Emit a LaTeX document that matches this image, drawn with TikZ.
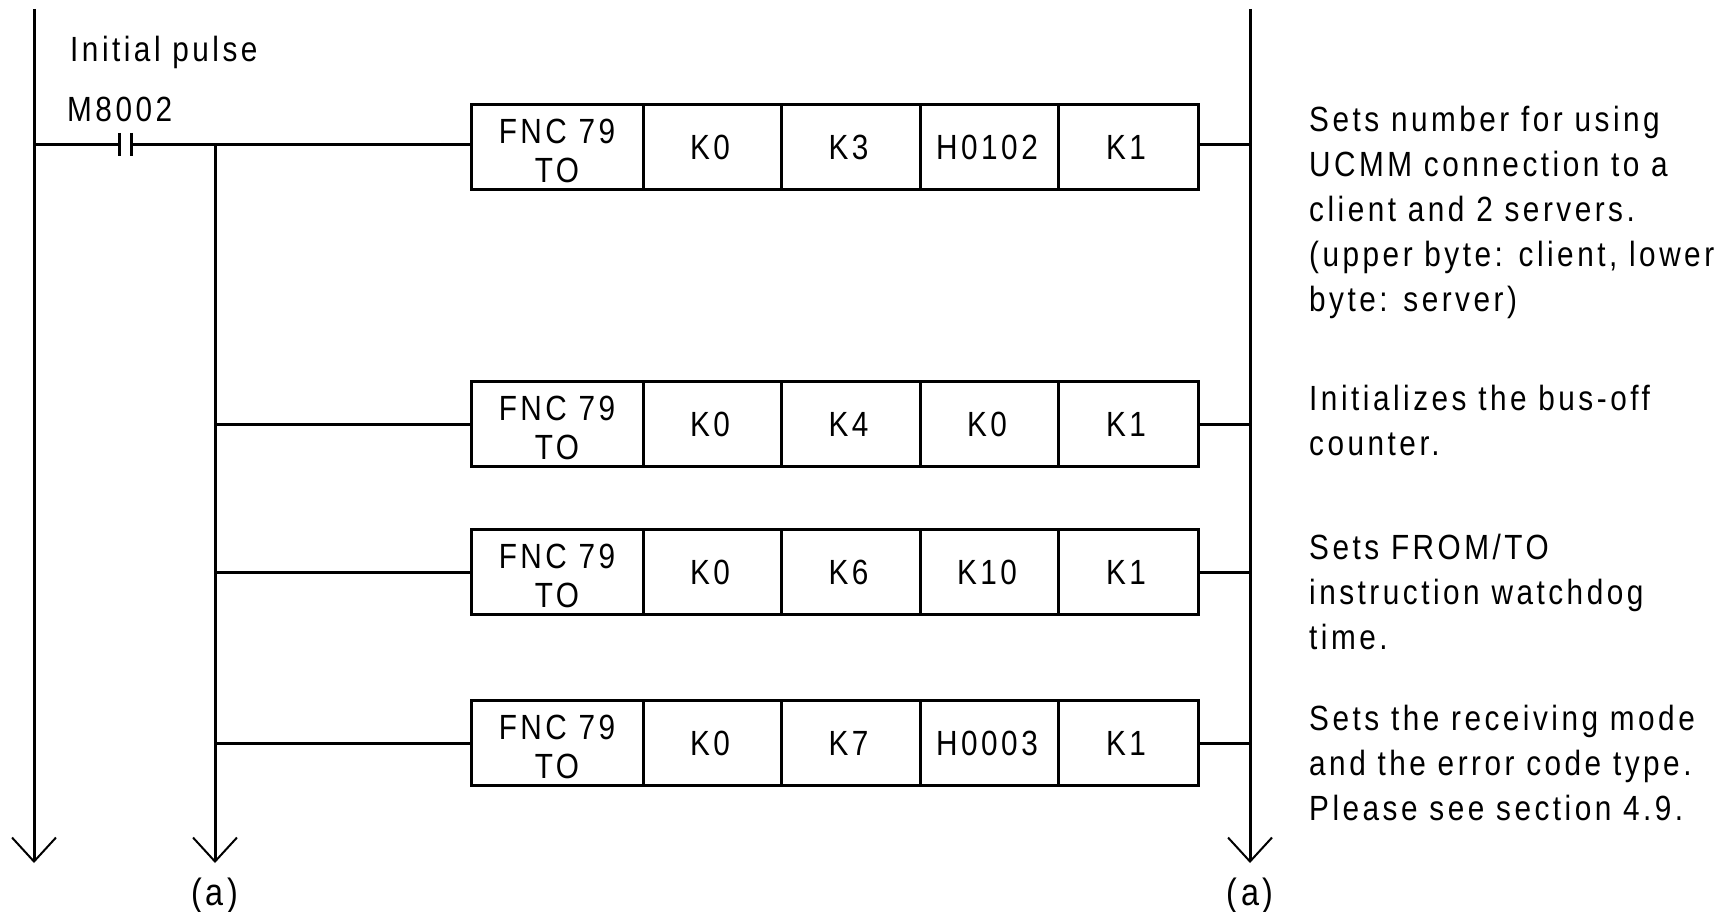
\documentclass[tikz,border=0pt]{standalone}
\usepackage{fontspec}
\setmainfont[FakeStretch=0.85,LetterSpace=10]{Liberation Sans}
\usetikzlibrary{positioning}
\usetikzlibrary{arrows.meta}
\newcommand{\fncto}{\rule{0pt}{33pt}FNC 79\\TO}

\begin{document}
\begin{tikzpicture}
		[x=1pt, y=1pt,
		cell/.style={rectangle, draw=black, line width=3pt, outer sep=0pt, inner sep=0pt, minimum height=85pt, align=center, font=\fontsize{35}{39}\selectfont},
		value/.style={cell, execute at end node={\kern4pt}},
		note/.style={anchor=north west, align=left, inner sep=0pt, font=\fontsize{35}{45}\selectfont},
		label/.style={anchor=west, inner sep=0pt, font=\fontsize{35}{40}\selectfont},
		tag/.style={anchor=north, inner sep=0pt, font=\fontsize{38}{40}\selectfont},
		wire/.style={line width=3pt},
		rail/.style={line width=3pt, -{Straight Barb[length=24pt, width=44pt, line width=2pt]}}]
		\useasboundingbox (0,0) rectangle (1729,-912);

		\coordinate (ltop) at (34,-9);
		\coordinate (lend) at (34,-863);
		\coordinate (btop) at (215,-144.5);
		\coordinate (bend) at (215,-863);
		\coordinate (rtop) at (1250,-9);
		\coordinate (rend) at (1250,-863);
		\coordinate (conl) at (119,-144.5);
		\coordinate (conr) at (131,-144.5);

		\node[cell, minimum width=172pt] (a1) at (557,-147) {\fncto};
		\node[value, minimum width=138pt, right=0pt of a1] (a2) {K0};
		\node[value, minimum width=139pt, right=0pt of a2] (a3) {K3};
		\node[value, minimum width=138pt, right=0pt of a3] (a4) {H0102};
		\node[value, minimum width=140pt, right=0pt of a4] (a5) {K1};

		\node[cell, minimum width=172pt] (b1) at (557,-424) {\fncto};
		\node[value, minimum width=138pt, right=0pt of b1] (b2) {K0};
		\node[value, minimum width=139pt, right=0pt of b2] (b3) {K4};
		\node[value, minimum width=138pt, right=0pt of b3] (b4) {K0};
		\node[value, minimum width=140pt, right=0pt of b4] (b5) {K1};

		\node[cell, minimum width=172pt] (c1) at (557,-572) {\fncto};
		\node[value, minimum width=138pt, right=0pt of c1] (c2) {K0};
		\node[value, minimum width=139pt, right=0pt of c2] (c3) {K6};
		\node[value, minimum width=138pt, right=0pt of c3] (c4) {K10};
		\node[value, minimum width=140pt, right=0pt of c4] (c5) {K1};

		\node[cell, minimum width=172pt] (d1) at (557,-743) {\fncto};
		\node[value, minimum width=138pt, right=0pt of d1] (d2) {K0};
		\node[value, minimum width=139pt, right=0pt of d2] (d3) {K7};
		\node[value, minimum width=138pt, right=0pt of d3] (d4) {H0003};
		\node[value, minimum width=140pt, right=0pt of d4] (d5) {K1};

		\node[label] (pulse) at (70,-52) {Initial pulse};
		\node[label] (relay) at (67,-109) {M8002};
		\node[tag] (la) at (215,-878) {(a)};
		\node[tag] (ra) at (1250,-878) {(a)};

		\node[note] (n1) at (1309,-106) {Sets number for using\\UCMM connection to a\\client and 2 servers.\\(upper byte: client, lower\\byte: server)};
		\node[note] (n2) at (1309,-385) {Initializes the bus-off\\counter.};
		\node[note] (n3) at (1309,-534) {Sets FROM/TO\\instruction watchdog\\time.};
		\node[note] (n4) at (1309,-705) {Sets the receiving mode\\and the error code type.\\Please see section 4.9.};

		\draw[rail] (ltop) to (lend);
		\draw[rail] (btop) to (bend);
		\draw[rail] (rtop) to (rend);

		\draw[wire] (ltop |- conl) to (conl);
		\draw[wire] (conl |- 0,-133) to (conl |- 0,-156);
		\draw[wire] (conr |- 0,-133) to (conr |- 0,-156);
		\draw[wire] (conr) to (btop);
		\draw[wire] (btop) to (btop -| a1.west);
		\draw[wire] (btop |- b1.west) to (b1.west);
		\draw[wire] (btop |- c1.west) to (c1.west);
		\draw[wire] (btop |- d1.west) to (d1.west);
		\draw[wire] (btop -| a5.east) to (btop -| rtop);
		\draw[wire] (b5.east) to (rtop |- b5.east);
		\draw[wire] (c5.east) to (rtop |- c5.east);
		\draw[wire] (d5.east) to (rtop |- d5.east);
	\end{tikzpicture}
\end{document}
